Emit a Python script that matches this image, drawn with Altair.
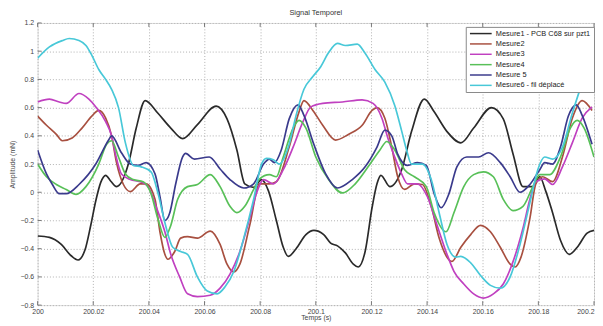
import altair as alt
import pandas as pd

T0 = 200.0
names = ["Mesure1 - PCB C68 sur pzt1", "Mesure2", "Mesure3", "Mesure4", "Mesure 5",
         "Mesure6 - fil déplacé"]
colors = ["#2a2a2a", "#a85040", "#c040c0", "#58c058", "#3a3a8c", "#48c8d8"]

# time offsets after 200 s (in ms) and amplitudes
m1_ms = [0.0, 4.26, 8.51, 12.06, 14.54, 17.02, 19.15, 20.92, 22.70, 24.47, 26.24, 28.37, 32.62,
         35.46, 38.65, 43.26, 47.87, 52.13, 57.45, 64.18, 68.09, 71.63, 74.47, 77.66, 80.50,
         82.98, 85.82, 88.30, 90.07, 92.91, 96.45, 99.29, 102.84, 105.32, 107.80, 110.64,
         113.48, 115.25, 117.73, 120.21, 121.99, 123.40, 126.60, 130.85, 134.40, 139.01,
         142.55, 147.16, 152.13, 156.74, 163.12, 167.38, 170.92, 174.47, 178.01, 180.50,
         182.62, 185.11, 187.94, 191.13, 193.97, 197.52, 200.0]
m1_v = [-0.31, -0.32, -0.37, -0.45, -0.48, -0.41, -0.23, -0.06, 0.07, 0.12, 0.08, 0.04, 0.2,
        0.455, 0.65, 0.56, 0.455, 0.38, 0.48, 0.61, 0.52, 0.3, 0.06, 0.035, 0.09,
        0.01, -0.2, -0.39, -0.455, -0.4, -0.3, -0.27, -0.3, -0.36, -0.38, -0.43,
        -0.51, -0.53, -0.42, -0.11, 0.06, 0.12, 0.04, 0.16, 0.43, 0.66,
        0.57, 0.43, 0.35, 0.455, 0.6, 0.52, 0.27, 0.04, 0.04, 0.11,
        0.01, -0.145, -0.34, -0.44, -0.39, -0.29, -0.27]

m2_ms = [0.0, 3.19, 6.74, 8.87, 12.41, 15.96, 19.50, 21.99, 24.47, 26.60, 28.37, 30.85, 33.33,
         36.88, 39.01, 42.20, 43.97, 45.74, 46.81, 49.29, 51.42, 53.90, 57.45, 62.06, 65.60,
         68.09, 70.57, 72.70, 76.24, 79.79, 83.33, 85.82, 90.43, 93.97, 95.74, 98.94, 102.48,
         107.09, 111.70, 116.67, 120.21, 121.99, 124.82, 127.30, 129.43, 131.91, 135.46,
         138.30, 141.49, 144.33, 147.16, 148.94, 152.13, 155.67, 159.22, 162.77, 166.31,
         169.86, 171.63, 173.76, 176.95, 179.08, 181.56, 185.11, 188.65, 192.20, 195.74,
         199.29]
m2_v = [0.54, 0.475, 0.41, 0.365, 0.385, 0.455, 0.54, 0.58, 0.525, 0.4, 0.21, 0.055, 0.005,
        0.06, 0.06, -0.05, -0.28, -0.44, -0.475, -0.42, -0.325, -0.315, -0.325, -0.275, -0.37,
        -0.51, -0.565, -0.51, -0.235, 0.06, 0.06, 0.075, 0.32, 0.57, 0.65, 0.58, 0.475,
        0.37, 0.41, 0.475, 0.58, 0.6, 0.525, 0.32, 0.11, 0.02, 0.06,
        0.055, -0.1, -0.325, -0.46, -0.49, -0.39, -0.3, -0.235, -0.28, -0.39,
        -0.51, -0.53, -0.46, -0.185, 0.06, 0.11, 0.075, 0.25, 0.525, 0.65,
        0.58]

m3_ms = [0.0, 4.26, 7.80, 10.28, 14.89, 18.44, 20.92, 24.47, 26.60, 28.01, 30.14, 33.33, 36.88,
         39.72, 42.55, 45.74, 47.87, 51.06, 53.90, 57.45, 62.06, 65.60, 69.15, 72.70, 76.24,
         78.72, 81.21, 84.75, 88.30, 91.84, 95.39, 98.23, 102.48, 109.57, 116.67, 120.57,
         123.76, 125.89, 128.37, 130.85, 132.98, 136.52, 140.07, 143.62, 147.16, 149.65,
         153.19, 156.74, 160.28, 163.83, 167.38, 170.92, 174.47, 176.95, 179.08, 182.27,
         185.11, 188.65, 192.20, 195.74, 199.29]
m3_v = [0.64, 0.66, 0.64, 0.63, 0.7, 0.66, 0.605, 0.5, 0.4, 0.27, 0.13, 0.09, 0.075,
        0.04, -0.1, -0.28, -0.44, -0.6, -0.72, -0.74, -0.73, -0.68, -0.58, -0.42, -0.185,
        -0.005, 0.09, 0.06, 0.16, 0.32, 0.5, 0.605, 0.63, 0.64, 0.655, 0.63,
        0.525, 0.385, 0.25, 0.13, 0.06, 0.06, -0.03, -0.235, -0.44, -0.56,
        -0.65, -0.72, -0.75, -0.72, -0.65, -0.49, -0.255, -0.05, 0.075, 0.095,
        0.055, 0.18, 0.35, 0.525, 0.605]

m4_ms = [0.0, 3.19, 6.74, 10.28, 13.83, 17.38, 21.99, 24.82, 26.60, 29.08, 31.56, 34.40, 37.94,
         40.78, 43.26, 45.74, 47.87, 50.35, 53.90, 57.45, 62.06, 65.60, 69.15, 71.63, 74.47,
         77.66, 79.79, 83.33, 85.82, 88.30, 91.84, 93.97, 96.45, 100.0, 104.61, 109.57,
         114.18, 118.79, 123.05, 125.53, 128.37, 131.91, 135.46, 139.72, 142.55, 146.81,
         149.65, 153.19, 156.74, 160.28, 163.83, 167.38, 170.92, 174.47, 178.01, 180.50,
         184.04, 187.94, 191.49, 193.97, 196.45, 200.0]
m4_v = [0.2, 0.11, 0.055, 0.02, -0.015, 0.04, 0.2, 0.34, 0.365, 0.25, 0.13, 0.09, 0.075,
        -0.01, -0.19, -0.32, -0.235, -0.05, 0.04, 0.055, 0.125, 0.04, -0.1, -0.145, -0.1,
        0.02, 0.095, 0.125, 0.11, 0.25, 0.455, 0.51, 0.455, 0.25, 0.09, -0.005,
        0.06, 0.18, 0.3, 0.36, 0.3, 0.16, 0.11, 0.04, -0.145, -0.28,
        -0.145, 0.04, 0.125, 0.145, 0.11, -0.05, -0.13, -0.1, 0.04, 0.125,
        0.125, 0.25, 0.455, 0.51, 0.455, 0.25]

m5_ms = [0.0, 3.19, 5.32, 7.80, 10.28, 14.89, 20.92, 25.53, 26.60, 30.14, 33.33, 36.17, 39.01,
         42.20, 43.97, 45.74, 47.52, 49.65, 52.13, 53.19, 56.38, 61.70, 65.60, 69.15, 74.11,
         77.66, 81.21, 83.33, 85.11, 87.59, 90.43, 93.62, 95.74, 99.29, 103.55, 107.80,
         113.12, 117.73, 121.99, 124.82, 127.30, 129.43, 132.98, 136.52, 139.72, 142.55,
         145.04, 147.87, 150.71, 154.26, 158.51, 162.06, 166.31, 169.86, 173.40, 176.95,
         180.50, 182.27, 185.11, 187.94, 190.78, 193.62, 195.74, 199.29]
m5_v = [0.3, 0.13, 0.055, -0.01, -0.01, 0.055, 0.2, 0.37, 0.4, 0.28, 0.2, 0.19, 0.21,
        0.13, -0.03, -0.2, -0.145, 0.06, 0.25, 0.275, 0.235, 0.25, 0.165, 0.09, 0.03,
        0.06, 0.2, 0.235, 0.21, 0.3, 0.52, 0.62, 0.545, 0.34, 0.13, 0.03,
        0.09, 0.18, 0.32, 0.44, 0.4, 0.27, 0.19, 0.21, 0.19, -0.01,
        -0.11, -0.01, 0.18, 0.25, 0.25, 0.28, 0.21, 0.11, 0.0, 0.055,
        0.16, 0.21, 0.2, 0.32, 0.54, 0.62, 0.545, 0.34]

m6_ms = [0.0, 4.26, 8.87, 11.35, 14.89, 17.38, 19.50, 21.99, 24.47, 26.60, 29.08, 31.56, 34.40,
         37.23, 40.78, 43.26, 45.74, 48.58, 51.42, 53.90, 57.45, 60.99, 64.54, 67.38, 70.57,
         74.11, 77.66, 80.50, 82.27, 84.75, 86.88, 90.43, 92.91, 95.74, 98.94, 101.77,
         104.61, 107.80, 110.64, 114.89, 117.73, 121.28, 124.82, 128.37, 130.85, 132.62,
         134.40, 138.30, 141.49, 144.33, 147.16, 150.35, 152.13, 155.67, 159.22, 162.77,
         166.31, 169.86, 173.40, 176.95, 179.79, 182.27, 185.11, 188.65, 192.20, 195.74,
         199.29]
m6_v = [0.95, 1.03, 1.075, 1.09, 1.075, 1.04, 0.97, 0.87, 0.8, 0.73, 0.6, 0.35, 0.19,
        0.18, 0.145, -0.005, -0.215, -0.39, -0.42, -0.44, -0.6, -0.7, -0.72, -0.67, -0.56,
        -0.325, -0.05, 0.2, 0.24, 0.23, 0.2, 0.34, 0.545, 0.73, 0.82, 0.89,
        0.99, 1.055, 1.04, 1.05, 0.985, 0.87, 0.78, 0.615, 0.435, 0.3,
        0.2, 0.2, 0.09, -0.145, -0.37, -0.46, -0.455, -0.5, -0.59, -0.66,
        -0.68, -0.6, -0.37, -0.075, 0.16, 0.25, 0.235, 0.32, 0.56, 0.77,
        0.92]

x_ticks = [200, 200.02, 200.04, 200.06, 200.08, 200.1, 200.12, 200.14, 200.16, 200.18, 200.2]
y_ticks = [-0.8, -0.6, -0.4, -0.2, 0, 0.2, 0.4, 0.6, 0.8, 1, 1.2]

series = [(m1_ms, m1_v), (m2_ms, m2_v), (m3_ms, m3_v), (m4_ms, m4_v), (m5_ms, m5_v), (m6_ms, m6_v)]
rows = []
for i, (name, (ms, vs)) in enumerate(zip(names, series)):
    for k, (a, b) in enumerate(zip(ms, vs)):
        rows.append({"t": T0 + a / 1000.0, "v": b, "serie": name, "k": k})
df = pd.DataFrame(rows)

W, H = 564, 286
FONT = "Liberation Sans"

xscale = alt.Scale(domain=[200, 200.2], nice=False, zero=False)
yscale = alt.Scale(domain=[-0.8, 1.2], nice=False, zero=False)

x_axis = alt.Axis(values=x_ticks, format="~g", title="Temps (s)", grid=True,
                  gridDash=[1, 2], gridColor="#b0b0b0", domain=False, ticks=False,
                  labelFontSize=7, labelColor="#444", labelFont=FONT, labelPadding=2,
                  labelAlign={"condition": {"test": "datum.value >= 200.19", "value": "right"},
                              "value": "center"},
                  titleFontSize=7, titleFontWeight="normal", titleFont=FONT,
                  titleColor="#444", titlePadding=0, labelFlush=False)
y_axis = alt.Axis(values=y_ticks, format="~g", title="Amplitude (mN)", grid=True,
                  gridDash=[1, 2], gridColor="#b0b0b0", domain=False, ticks=False,
                  labelFontSize=7, labelColor="#444", labelFont=FONT, labelPadding=4,
                  titleFontSize=7, titleFontWeight="normal", titleFont=FONT,
                  titleColor="#444", titlePadding=5, labelFlush=False)

lines = alt.Chart(df).mark_line(strokeWidth=1.7, interpolate="monotone", clip=True).encode(
    x=alt.X("t:Q", scale=xscale, axis=x_axis, title="Temps (s)"),
    y=alt.Y("v:Q", scale=yscale, axis=y_axis, title="Amplitude (mN)"),
    color=alt.Color("serie:N", scale=alt.Scale(domain=names, range=colors),
                    legend=alt.Legend(title=None, orient="none", legendX=434, legendY=4,
                                      fillColor="white", strokeColor="#888", padding=3,
                                      labelFontSize=7.5, labelFont=FONT, labelColor="#222",
                                      symbolType="M-1,0H7.8", symbolSize=25,
                                      symbolStrokeWidth=1.5, labelOffset=20, rowPadding=1.5,
                                      cornerRadius=0)),
    order=alt.Order("k:Q"),
    detail="serie:N",
)

xt = pd.DataFrame({"t": x_ticks})
yt = pd.DataFrame({"v": y_ticks})
top_ticks = alt.Chart(xt).mark_rule(color="#777", strokeWidth=1).encode(
    x=alt.X("t:Q", scale=xscale, axis=x_axis, title="Temps (s)"), y=alt.value(0), y2=alt.value(4))
bot_ticks = alt.Chart(xt).mark_rule(color="#777", strokeWidth=1).encode(
    x=alt.X("t:Q", scale=xscale, axis=x_axis, title="Temps (s)"), y=alt.value(H), y2=alt.value(H - 4))
left_ticks = alt.Chart(yt).mark_rule(color="#777", strokeWidth=1).encode(
    y=alt.Y("v:Q", scale=yscale, axis=y_axis, title="Amplitude (mN)"), x=alt.value(0), x2=alt.value(4))

chart = alt.layer(lines, top_ticks, bot_ticks, left_ticks).properties(
    width=W, height=H,
    title=alt.TitleParams("Signal Temporel", fontSize=7.5, fontWeight="normal", font=FONT,
                          color="#333", offset=3, anchor="middle"),
    autosize="none",
    padding={"left": 30, "top": 13, "right": 1, "bottom": 19},
).configure_view(stroke="#888", strokeWidth=1).configure(background="white")

chart.save("out.html", embed_options={"renderer": "svg", "actions": False})
